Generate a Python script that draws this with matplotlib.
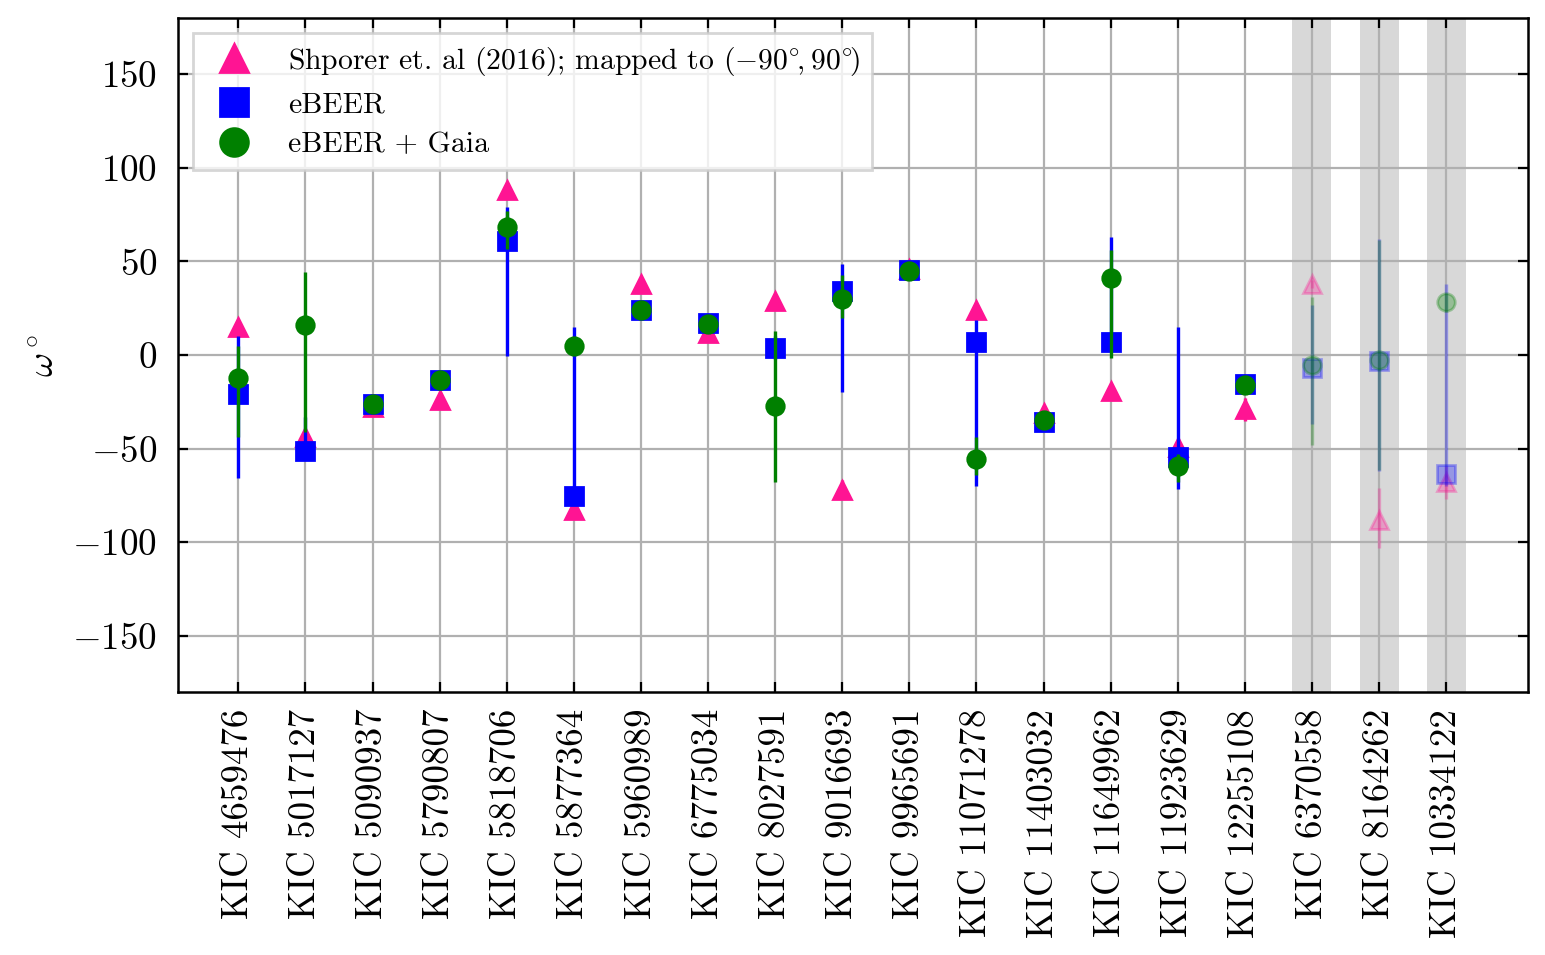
import numpy as np
import matplotlib
matplotlib.use("Agg")
import matplotlib.pyplot as plt
from matplotlib.lines import Line2D

plt.rcParams.update({
    "font.family": "serif",
    "font.serif": ["cmr10", "DejaVu Serif"],
    "mathtext.fontset": "cm",
    "axes.formatter.use_mathtext": True,
    "font.size": 13.3,
    "xtick.direction": "in",
    "ytick.direction": "in",
    "xtick.top": True,
    "ytick.right": True,
})

stars = ["KIC 4659476", "KIC 5017127", "KIC 5090937", "KIC 5790807", "KIC 5818706",
         "KIC 5877364", "KIC 5960989", "KIC 6775034", "KIC 8027591", "KIC 9016693",
         "KIC 9965691", "KIC 11071278", "KIC 11403032", "KIC 11649962", "KIC 11923629",
         "KIC 12255108", "KIC 6370558", "KIC 8164262", "KIC 10334122"]

shporer = [15, -44, -28, -24, 88, -83, 38, 12, 29, -72, 46, 24, -31, -19, -49, -29, 38, -88, -68]
shporer_up = [3, 3, 2, 2, 3, 3, 2, 2, 2, 5, 2, 3, 4, 2, 3, 6, 2, 17, 9]
shporer_lo = [3, 3, 2, 2, 3, 3, 2, 2, 2, 5, 2, 3, 4, 2, 3, 6, 2, 15, 9]

ebeer = [-21, -51, -26, -13.5, 61, -75.5, 24, 17, 4, 34, 45.5, 7, -35.5, 7, -54.5, -15.5, -7, -3, -63.5]
ebeer_up = [31, 18, 3, 3, 18, 90.5, 3, 3, 6, 14.4, 2, 12, 3, 56, 69.5, 3, 34, 65, 101.5]
ebeer_lo = [44.5, 5, 3, 3, 61.5, 3, 3, 3, 6, 53.6, 2, 77, 3, 5, 17, 3, 30, 59, 6.5]

gaia = [-12.5, 16, -26, -13.5, 68.5, 5, 24, 16.5, -27, 30, 45, -55.5, -34.5, 41, -59, -16, -5.5, -2.5, 28.5]
gaia_up = [17.5, 28.6, 3, 3, 8.5, 3, 3, 3, 40, 13, 2, 11.5, 3, 15, 6, 3, 36.5, 64, 4.5]
gaia_lo = [31.5, 57, 3, 3, 12, 3, 3, 3, 41, 10, 2, 8.5, 3, 42.5, 8.7, 3, 42.5, 59, 5.5]

n_good = 16  # first 16 are normal; the rest are highlighted/faded

x = np.arange(len(stars))

fig = plt.figure(figsize=(1545 / 200, 955 / 200), dpi=200)
ax = fig.add_axes([0.1152, 0.2754, 0.989 - 0.1152, 0.981 - 0.2754])

series = [
    (shporer, shporer_lo, shporer_up, "^", "deeppink",
     r"Shporer et. al (2016); mapped to $(-90^{\circ}\!, 90^{\circ}\!)$", 3),
    (ebeer, ebeer_lo, ebeer_up, "s", "blue", "eBEER", 4),
    (gaia, gaia_lo, gaia_up, "o", "green", "eBEER + Gaia", 5),
]

handles = []
for vals, lo, up, mk, col, lab, z in series:
    vals = np.array(vals, float)
    lo = np.array(lo, float)
    up = np.array(up, float)
    ax.errorbar(x[:n_good], vals[:n_good], yerr=[lo[:n_good], up[:n_good]],
                fmt=mk, color=col, ms=6.3, elinewidth=1.2, capsize=0, zorder=z)
    ax.errorbar(x[n_good:], vals[n_good:], yerr=[lo[n_good:], up[n_good:]],
                fmt=mk, color=col, ms=6.3, elinewidth=1.2, capsize=0,
                alpha=0.3, zorder=z)
    handles.append(Line2D([], [], ls="none", marker=mk, color=col, ms=10, label=lab))

for xi in x[n_good:]:
    ax.axvspan(xi - 0.29, xi + 0.29, color="gray", alpha=0.3, lw=0, zorder=1)

ax.set_xlim(-0.9, 19.22)
ax.set_ylim(-180, 180)
ax.set_yticks([-150, -100, -50, 0, 50, 100, 150])
ax.set_xticks(x)
ax.set_xticklabels(stars, rotation=90)
ax.tick_params(axis="y", pad=7.5)
ax.tick_params(axis="x", pad=6)
ax.set_ylabel(r"$\omega^\circ$")
ax.grid(True, color="#b0b0b0", lw=0.8)
for s in ax.spines.values():
    s.set_linewidth(0.9)

leg = ax.legend(handles=handles, loc="upper left", fontsize=10.7, fancybox=False,
                edgecolor="#cccccc", framealpha=0.8, labelspacing=0.45)
leg.get_frame().set_linewidth(1.0)

fig.savefig("out.png", dpi=200)
